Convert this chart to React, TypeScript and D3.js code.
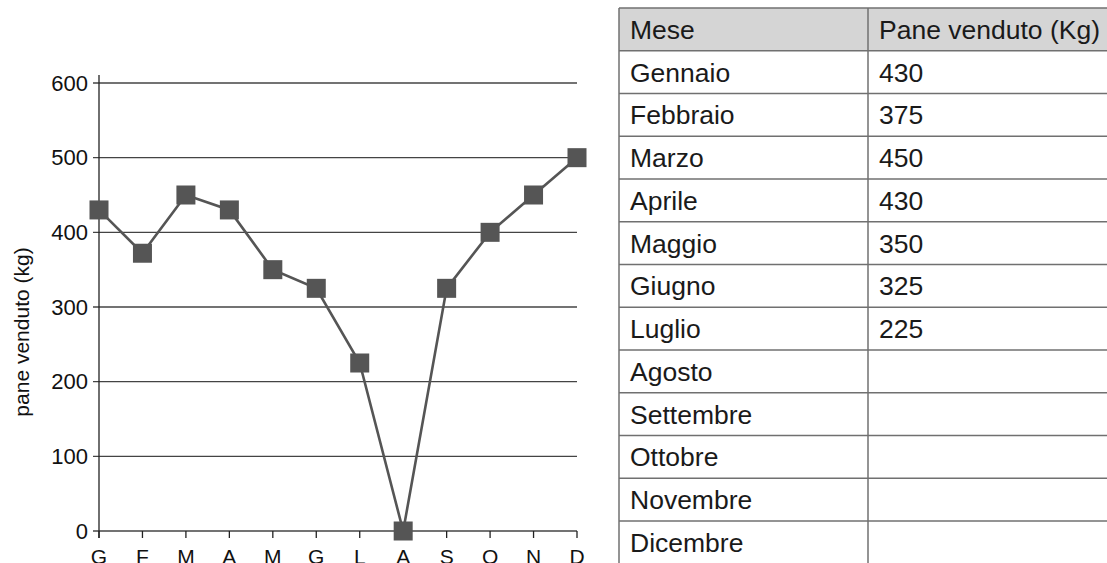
import React, { useEffect, useRef } from 'react';
import * as d3 from 'd3';

// chart data
const monthInitials = ['G', 'F', 'M', 'A', 'M', 'G', 'L', 'A', 'S', 'O', 'N', 'D'];
const breadSold = [430, 372, 450, 430, 350, 325, 225, 0, 325, 400, 450, 500];
const yTicks = [0, 100, 200, 300, 400, 500, 600];

// table data
const tableHeaders = ['Mese', 'Pane venduto (Kg)'];
const monthNames = ['Gennaio', 'Febbraio', 'Marzo', 'Aprile', 'Maggio', 'Giugno', 'Luglio', 'Agosto', 'Settembre', 'Ottobre', 'Novembre', 'Dicembre'];
const tableValues = ['430', '375', '450', '430', '350', '325', '225', '', '', '', '', ''];

const FONT = '"Liberation Sans", Arial, Helvetica, sans-serif';

const App = () => {
    const svgRef = useRef<SVGSVGElement>(null);

    useEffect(() => {
        if (!svgRef.current) return;
        const svg = d3.select(svgRef.current);
        svg.selectAll('*').remove();

        // scales
        const xScale = d3.scalePoint<number>()
            .domain(d3.range(monthInitials.length))
            .range([99, 577]);
        const yScale = d3.scaleLinear()
            .domain([0, 600])
            .range([531, 83]);

        const chart = svg.append('g');

        // horizontal grid lines
        chart.append('g')
            .selectAll('line')
            .data(yTicks)
            .enter()
            .append('line')
            .attr('x1', 93)
            .attr('x2', 577)
            .attr('y1', d => yScale(d))
            .attr('y2', d => yScale(d))
            .attr('stroke', '#444')
            .attr('stroke-width', 1.3);

        // y tick labels
        chart.append('g')
            .selectAll('text')
            .data(yTicks)
            .enter()
            .append('text')
            .attr('x', 88)
            .attr('y', d => yScale(d))
            .attr('dy', '0.35em')
            .attr('text-anchor', 'end')
            .style('font-family', FONT)
            .style('font-size', '22px')
            .attr('fill', '#111')
            .text(d => d);

        // y axis line
        chart.append('line')
            .attr('x1', xScale(0)!)
            .attr('x2', xScale(0)!)
            .attr('y1', 75)
            .attr('y2', 538)
            .attr('stroke', '#222')
            .attr('stroke-width', 1.3);

        // x ticks
        chart.append('g')
            .selectAll('line')
            .data(d3.range(monthInitials.length))
            .enter()
            .append('line')
            .attr('x1', d => xScale(d)!)
            .attr('x2', d => xScale(d)!)
            .attr('y1', yScale(0))
            .attr('y2', yScale(0) + 7)
            .attr('stroke', '#222')
            .attr('stroke-width', 1.3);

        // x labels (cut by the bottom edge, as in the source)
        chart.append('g')
            .selectAll('text')
            .data(monthInitials)
            .enter()
            .append('text')
            .attr('x', (d, i) => xScale(i)!)
            .attr('y', 564)
            .attr('text-anchor', 'middle')
            .style('font-family', FONT)
            .style('font-size', '21px')
            .attr('fill', '#111')
            .text(d => d);

        // y axis title
        chart.append('text')
            .attr('transform', `translate(29, 332) rotate(-90)`)
            .attr('text-anchor', 'middle')
            .style('font-family', FONT)
            .style('font-size', '21px')
            .attr('fill', '#111')
            .text('pane venduto (kg)');

        // line
        const line = d3.line<number>()
            .x((d, i) => xScale(i)!)
            .y(d => yScale(d));

        chart.append('path')
            .datum(breadSold)
            .attr('fill', 'none')
            .attr('stroke', '#555')
            .attr('stroke-width', 2.6)
            .attr('d', line);

        // square markers
        const sq = 19;
        chart.append('g')
            .selectAll('rect')
            .data(breadSold)
            .enter()
            .append('rect')
            .attr('x', (d, i) => xScale(i)! - sq / 2)
            .attr('y', d => yScale(d) - sq / 2)
            .attr('width', sq)
            .attr('height', sq)
            .attr('fill', '#555');

        // table
        const table = svg.append('g');
        const tLeft = 619;
        const tDivider = 868;
        const tRight = 1112;
        const tTop = 8;
        const rowH = 42.75;
        const rows = monthNames.map((m, i) => [m, tableValues[i]]);
        const allRows = [tableHeaders, ...rows];

        const rowY = d3.scaleLinear()
            .domain([0, allRows.length])
            .range([tTop, tTop + rowH * allRows.length]);

        table.append('rect')
            .attr('x', tLeft)
            .attr('y', rowY(0))
            .attr('width', tRight - tLeft)
            .attr('height', rowH)
            .attr('fill', '#d5d5d5');

        // horizontal rules
        table.append('g')
            .selectAll('line')
            .data(d3.range(allRows.length + 1))
            .enter()
            .append('line')
            .attr('x1', tLeft)
            .attr('x2', tRight)
            .attr('y1', d => rowY(d))
            .attr('y2', d => rowY(d))
            .attr('stroke', '#707070')
            .attr('stroke-width', 1.5);

        // vertical rules
        table.append('g')
            .selectAll('line')
            .data([tLeft, tDivider, tRight])
            .enter()
            .append('line')
            .attr('x1', d => d)
            .attr('x2', d => d)
            .attr('y1', rowY(0))
            .attr('y2', rowY(allRows.length))
            .attr('stroke', '#707070')
            .attr('stroke-width', 1.5);

        // cell text
        allRows.forEach((r, i) => {
            [tLeft, tDivider].forEach((x, j) => {
                table.append('text')
                    .attr('x', x + 11)
                    .attr('y', rowY(i) + rowH / 2)
                    .attr('dy', '0.36em')
                    .style('font-family', FONT)
                    .style('font-size', '26.5px')
                    .attr('fill', '#1a1a1a')
                    .text(r[j]);
            });
        });
    }, []);

    return (
        <div style={{ position: 'absolute', left: 0, top: 0 }}>
            <svg ref={svgRef} width={1107} height={563} style={{ display: 'block', background: '#fff' }}></svg>
        </div>
    );
};

export default App;
